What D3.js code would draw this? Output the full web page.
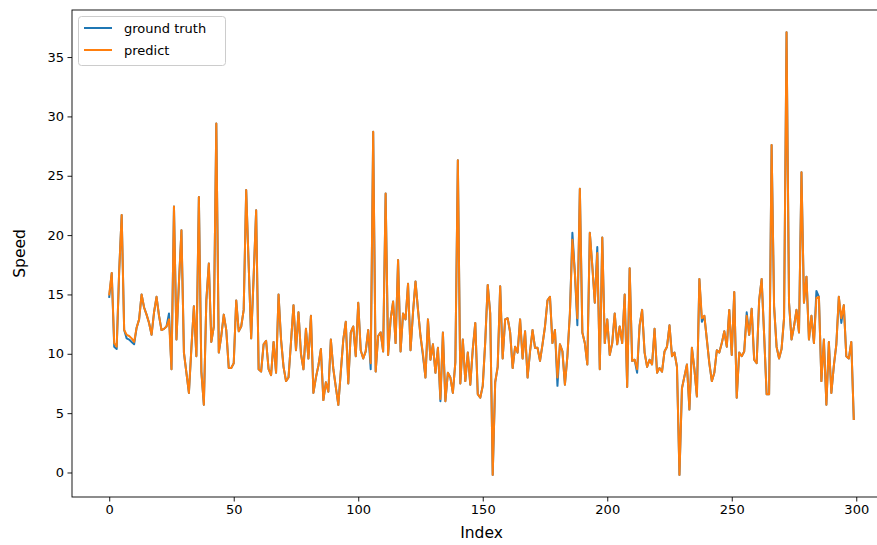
<!DOCTYPE html>
<html><head><meta charset="utf-8">
<script src="https://cdn.jsdelivr.net/npm/d3@7"></script>
<style>body{margin:0;background:#fff}svg{display:block;font-family:"DejaVu Sans",sans-serif}</style>
</head><body><svg id="c" width="877" height="545"></svg>
<script>
const groundTruth = [
14.8,16.8,10.6,10.4,17.0,21.7,12.0,11.3,11.2,11.0,
10.8,12.2,12.9,15.0,13.9,13.3,12.6,11.6,13.5,14.8,
13.2,12.0,12.1,12.3,13.4,8.7,22.4,11.2,16.0,20.4,
10.1,8.4,6.7,10.5,14.0,9.8,23.2,8.5,5.7,14.5,
17.6,11.0,12.3,29.4,10.1,11.5,13.3,12.0,8.8,8.8,
9.2,14.5,11.9,12.3,13.7,23.8,17.5,11.3,16.5,22.1,
8.7,8.5,10.8,11.1,8.7,8.2,11.0,8.4,15.0,11.2,
8.9,7.7,8.0,11.0,14.1,10.3,13.5,10.0,8.7,12.1,
9.6,13.2,6.7,8.0,9.0,10.4,6.1,7.6,6.8,11.2,
8.7,7.2,5.7,8.5,11.2,12.7,7.5,11.8,12.3,9.8,
14.3,10.3,9.6,10.2,12.0,8.7,28.7,8.5,11.5,11.8,
10.2,23.5,9.9,12.9,14.4,10.9,17.9,10.2,13.4,12.9,
15.9,10.3,13.5,16.1,13.7,11.5,9.8,8.0,12.9,9.5,
10.8,8.4,10.5,6.0,11.8,6.0,8.4,8.0,6.7,9.3,
26.3,7.5,11.2,7.7,10.1,7.4,10.4,12.6,6.6,6.3,
7.3,11.0,15.8,13.4,-0.2,7.6,8.9,15.7,9.6,12.9,
13.0,11.8,8.8,10.6,10.1,12.9,9.6,11.9,8.0,10.2,
12.0,10.5,10.5,9.4,10.8,12.3,14.5,14.8,10.9,12.0,
7.3,10.8,10.2,7.4,9.8,13.4,20.2,16.8,12.4,23.9,
11.8,10.9,9.1,20.2,17.4,14.3,19.0,8.7,19.8,10.9,
12.9,9.9,10.9,13.4,10.8,12.3,10.9,15.0,7.2,17.2,
9.4,9.5,8.4,12.4,13.7,10.1,8.9,9.5,9.1,12.1,
8.4,8.8,8.5,10.2,10.6,12.4,9.8,10.1,8.9,-0.2,
7.1,8.1,9.1,5.3,10.5,8.7,6.4,16.3,12.7,13.2,
11.2,9.2,7.7,8.4,10.3,10.1,10.9,11.9,10.6,13.7,
9.9,15.2,6.3,10.1,9.8,10.2,13.5,11.6,13.8,9.5,
9.2,14.5,16.3,11.6,6.6,6.6,27.6,14.0,10.6,9.6,
10.4,13.0,37.1,14.3,11.2,12.3,13.7,11.8,25.3,14.3,
16.5,11.2,13.2,10.9,15.3,14.8,7.7,11.2,5.7,11.0,
6.7,9.0,10.8,14.8,12.6,14.1,9.8,9.6,11.0,4.5
];
const predict = [
15.0,16.8,10.9,10.6,17.0,21.7,12.0,11.6,11.5,11.3,
11.0,12.2,12.9,15.0,13.9,13.3,12.6,11.6,13.5,14.8,
13.2,12.0,12.1,12.3,12.9,8.7,22.4,11.2,16.0,20.4,
10.1,8.4,6.7,10.5,14.0,9.8,23.2,8.5,5.7,14.5,
17.6,11.0,12.3,29.4,10.1,11.5,13.3,12.0,8.8,8.8,
9.2,14.5,11.9,12.3,13.7,23.8,17.5,11.3,16.5,22.1,
8.7,8.5,10.8,11.1,8.7,8.2,11.0,8.4,15.0,11.2,
8.9,7.7,8.0,11.0,14.1,10.3,13.5,10.0,8.7,12.1,
9.6,13.2,6.7,8.0,9.0,10.4,6.1,7.6,6.8,11.2,
8.7,7.2,5.7,8.5,11.2,12.7,7.5,11.8,12.3,9.8,
14.3,10.3,9.6,10.2,12.0,9.2,28.7,8.5,11.5,11.8,
10.2,23.5,9.9,12.9,14.4,10.9,17.9,10.2,13.4,12.9,
15.9,10.3,13.5,16.1,13.7,11.5,10.0,8.0,12.9,9.5,
10.8,8.4,10.5,6.2,11.8,6.0,8.4,8.0,6.7,9.3,
26.3,7.5,11.2,7.7,10.1,7.4,10.4,12.6,6.6,6.3,
7.3,11.0,15.8,13.4,-0.2,7.6,8.9,15.7,9.6,12.9,
13.0,11.8,8.8,10.6,10.1,12.9,9.6,11.9,8.0,10.2,
12.0,10.5,10.5,9.4,10.8,12.3,14.5,14.8,10.9,12.0,
8.0,10.8,10.2,7.4,9.8,13.4,19.6,16.8,13.0,23.9,
11.8,10.9,9.1,20.2,17.4,14.3,18.5,8.7,19.8,10.9,
12.9,9.9,10.9,13.4,10.8,12.3,10.9,15.0,7.2,17.2,
9.4,9.5,8.7,12.4,13.7,10.1,8.9,9.5,9.1,12.1,
8.4,8.8,8.5,10.2,10.6,12.4,9.8,10.1,8.9,-0.2,
7.1,8.1,9.1,5.3,10.5,8.7,6.4,16.3,13.0,13.2,
11.2,9.2,7.7,8.4,10.3,10.1,10.9,11.9,10.6,13.7,
9.9,15.2,6.3,10.1,9.8,10.2,13.2,11.6,13.8,9.5,
9.2,14.5,16.3,11.6,6.6,6.6,27.6,14.0,10.6,9.6,
10.4,13.0,37.1,14.3,11.2,12.3,13.7,11.8,25.3,14.3,
16.5,11.2,13.2,10.9,14.7,14.8,7.7,11.2,5.7,11.0,
6.7,9.0,10.8,14.8,13.0,14.1,9.8,9.6,11.0,4.5
];
const xTicks = [0, 50, 100, 150, 200, 250, 300];
const yTicks = [0, 5, 10, 15, 20, 25, 30, 35];
const seriesNames = ["ground truth", "predict"];
const seriesColors = ["#1f77b4", "#ff7f0e"];
const xLabel = "Index";
const yLabel = "Speed";

const svg = d3.select("#c");
const L = 72, R = 891, T = 10, B = 497;
const n = groundTruth.length;
const xm = (n - 1) * 0.05;
const all = groundTruth.concat(predict);
const ymin = d3.min(all), ymax = d3.max(all);
const ym = (ymax - ymin) * 0.05;
const x = d3.scaleLinear().domain([-xm, n - 1 + xm]).range([L, R]);
const y = d3.scaleLinear().domain([ymin - ym, ymax + ym]).range([B, T]);

svg.append("defs").append("clipPath").attr("id", "pc")
  .append("rect").attr("x", L).attr("y", T).attr("width", R - L).attr("height", B - T);

const line = d3.line().x((d, i) => x(i)).y(d => y(d));
const plot = svg.append("g").attr("clip-path", "url(#pc)");
[groundTruth, predict].forEach((s, k) => {
  plot.append("path").datum(s).attr("d", line)
    .attr("fill", "none").attr("stroke", seriesColors[k])
    .attr("stroke-width", 2).attr("stroke-linejoin", "round").attr("stroke-linecap", "square");
});

const xa = svg.append("g").attr("transform", `translate(0,${B})`)
  .call(d3.axisBottom(x).tickValues(xTicks).tickSize(4.5).tickPadding(3.5).tickFormat(d3.format("d")));
const ya = svg.append("g").attr("transform", `translate(${L},0)`)
  .call(d3.axisLeft(y).tickValues(yTicks).tickSize(4.5).tickPadding(3.5).tickFormat(d3.format("d")));
[xa, ya].forEach(a => {
  a.select(".domain").remove();
  a.selectAll("text").attr("font-size", 13).attr("fill", "#000").attr("font-family", "DejaVu Sans");
  a.selectAll("line").attr("stroke", "#000").attr("stroke-width", 0.9);
});

svg.append("rect").attr("x", L).attr("y", T).attr("width", R - L).attr("height", B - T)
  .attr("fill", "none").attr("stroke", "#000").attr("stroke-width", 0.9);

svg.append("text").attr("x", (L + R) / 2).attr("y", 538).attr("text-anchor", "middle")
  .attr("font-size", 15.5).text(xLabel);
svg.append("text").attr("transform", `translate(25,${(T + B) / 2}) rotate(-90)`)
  .attr("text-anchor", "middle").attr("font-size", 15.5).text(yLabel);

const lg = svg.append("g");
lg.append("rect").attr("x", 78.5).attr("y", 16.5).attr("width", 147).attr("height", 49)
  .attr("rx", 3).attr("fill", "#fff").attr("fill-opacity", 0.8).attr("stroke", "#cccccc").attr("stroke-width", 1);
seriesNames.forEach((nm, k) => {
  const yy = 28 + k * 22;
  lg.append("line").attr("x1", 84).attr("x2", 112).attr("y1", yy).attr("y2", yy)
    .attr("stroke", seriesColors[k]).attr("stroke-width", 2);
  lg.append("text").attr("x", 124).attr("y", yy + 4.5).attr("font-size", 13).text(nm);
});
</script></body></html>
